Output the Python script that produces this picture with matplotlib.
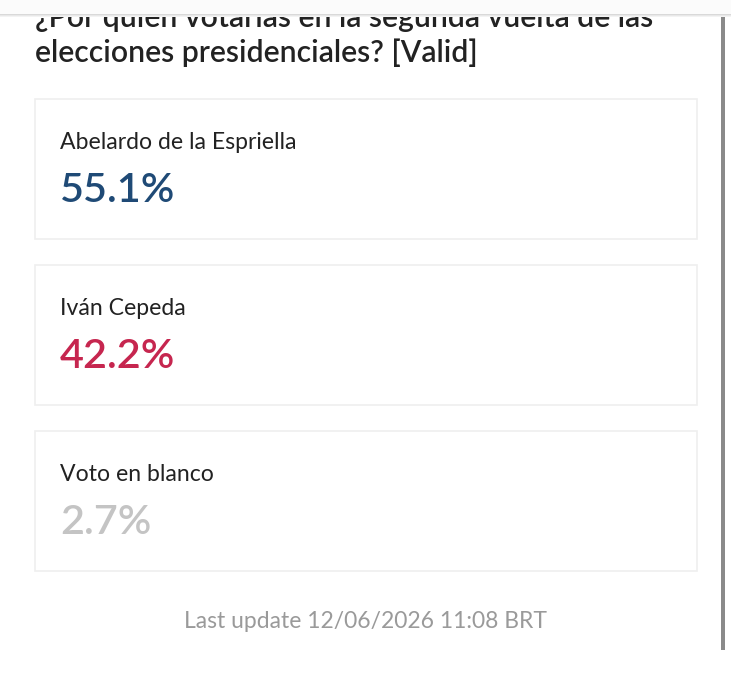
import matplotlib.pyplot as plt
from matplotlib.patches import Rectangle

plt.rcParams['font.family'] = ['Lato', 'DejaVu Sans']

title_lines = ['¿Por quién votarías en la segunda vuelta de las',
               'elecciones presidenciales? [Valid]']
candidates = ['Abelardo de la Espriella', 'Iván Cepeda', 'Voto en blanco']
shares = [55.1, 42.2, 2.7]
colors = ['#1f4a76', '#c6264f', '#c4c4c4']
footer = 'Last update 12/06/2026 11:08 BRT'

W, H = 731, 689
fig = plt.figure(figsize=(W / 100, H / 100), dpi=100)
ax = fig.add_axes([0, 0, 1, 1])
ax.set_xlim(0, W)
ax.set_ylim(H, 0)
ax.axis('off')

# title (first line partly hidden under the header bar)
ax.text(35, 27, title_lines[0], fontsize=21.7, fontweight='semibold', color='#222222', va='baseline')
ax.text(35, 62, title_lines[1], fontsize=21.7, fontweight='semibold', color='#222222', va='baseline')
ax.add_patch(Rectangle((0, 0), W, 14, facecolor='#fbfbfb', edgecolor='none', zorder=5))
for i, c in enumerate(['#d9d9d9', '#e8e8e8', '#f3f3f3']):
    ax.add_patch(Rectangle((0, 14 + i), W, 1, facecolor=c, edgecolor='none', zorder=5))

# cards
top0, card_h, step = 99, 140, 166
for i, (name, val, col) in enumerate(zip(candidates, shares, colors)):
    y0 = top0 + i * step
    ax.add_patch(Rectangle((35, y0), 662, card_h, facecolor='white',
                           edgecolor='#efefef', linewidth=1.2, zorder=1))
    ax.text(60, y0 + 50, name, fontsize=16.6, color='#222222', va='baseline', zorder=2)
    ax.text(60, y0 + 103, f'{val:.1f}%', fontsize=29.8, fontweight='semibold',
            color=col, va='baseline', zorder=2)

ax.text(365, 628, footer, fontsize=16.5, color='#9a9a9a', ha='center', va='baseline')

# scrollbar
ax.add_patch(Rectangle((721, 16), 4, 634, facecolor='#8a8a8a', edgecolor='none'))

fig.savefig('out.png', dpi=100)
